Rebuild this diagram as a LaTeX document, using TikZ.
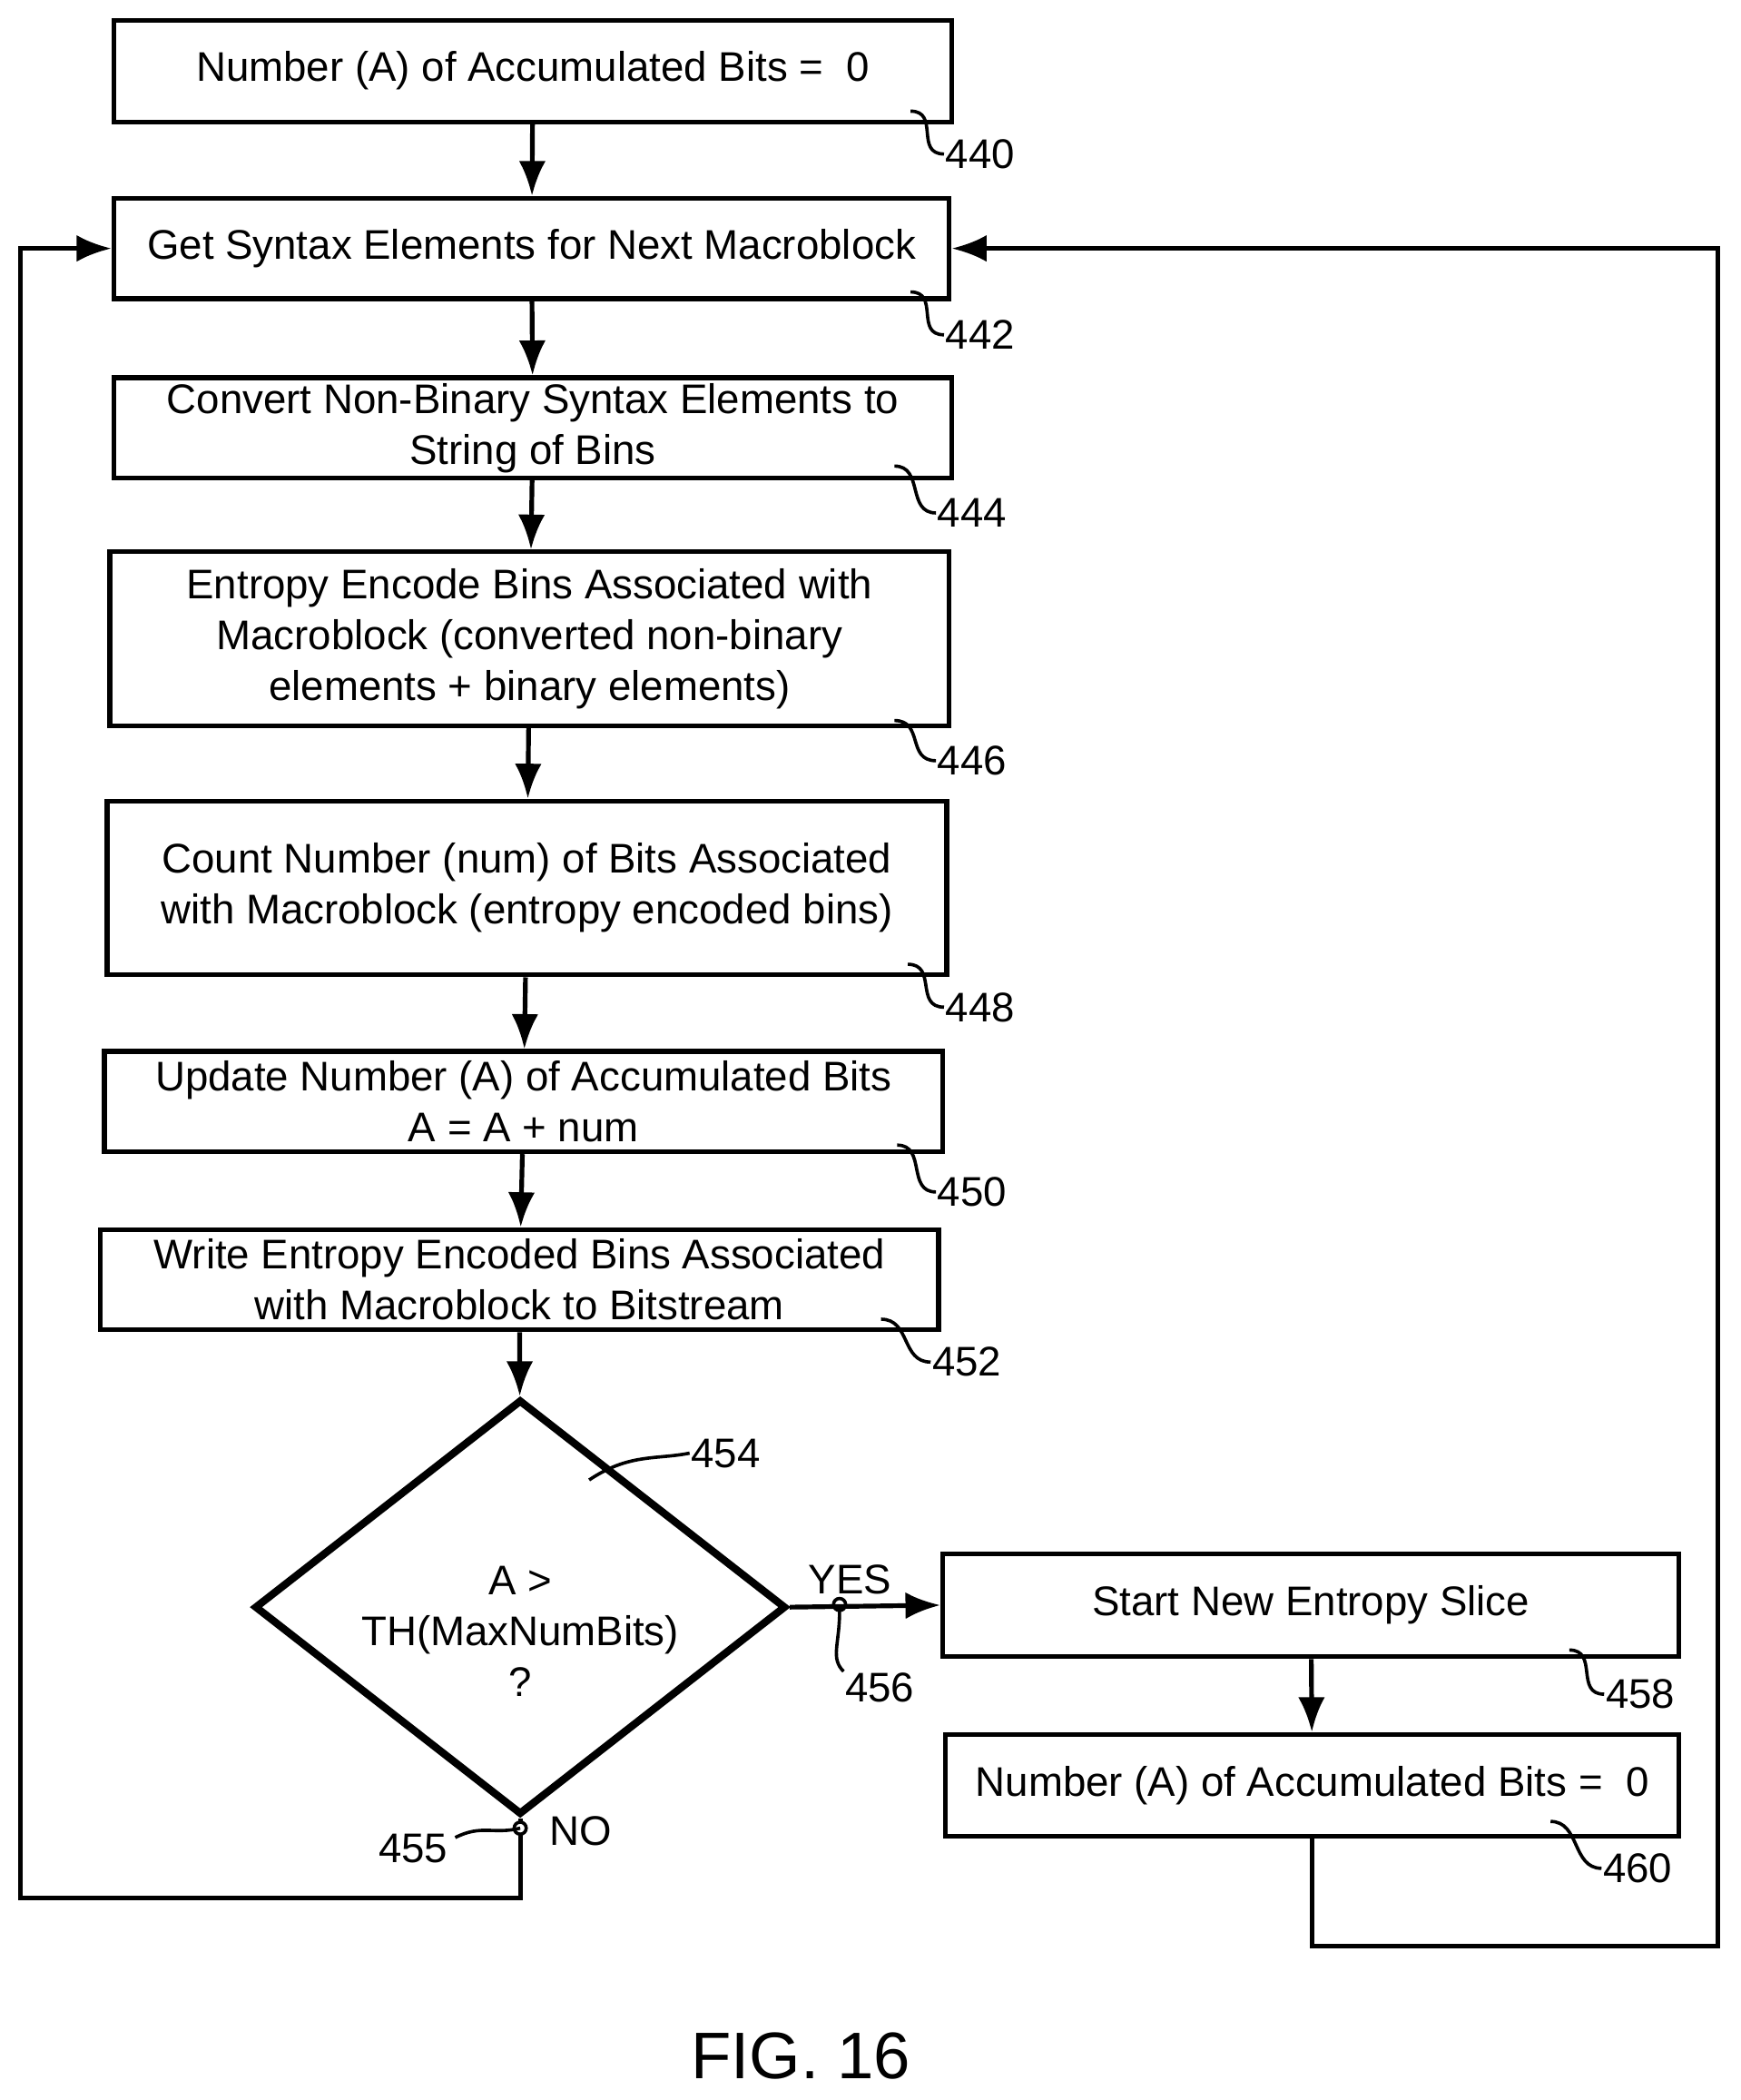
\documentclass[tikz,border=0pt]{standalone}
\usepackage{fontspec}
\setmainfont{Liberation Sans}
\usetikzlibrary{shapes.geometric,arrows.meta}

\tikzset{
  stepbox/.style={draw, line width=1pt, align=center, inner sep=1pt, font=\fontsize{8.8}{10.8}\selectfont},
  test/.style={draw, diamond, line width=1.6pt, align=center, inner sep=0pt, font=\fontsize{8.8}{10.8}\selectfont},
  arrow/.style={line width=1pt, -{Latex[length=2.6mm,width=2mm]}},
  flow/.style={line width=1pt},
  leader/.style={line width=0.7pt},
  ref/.style={anchor=west, inner sep=0pt, font=\fontsize{8.8}{9}\selectfont}
}
\newcommand{\refmark}[3]{%
  \draw[leader] (#1) .. controls +(0.22,0) and +(-0.22,0) .. (#2) node[ref] {#3};}

\begin{document}
\begin{tikzpicture}
\useasboundingbox (0,0) rectangle (13.0,-15.68);

% Steps
\node[stepbox, minimum width=6.26cm, minimum height=0.76cm] (b440) at (3.98,-0.53) {Number (A) of Accumulated Bits =\ \ 0};
\node[stepbox, minimum width=6.24cm, minimum height=0.75cm] (b442) at (3.97,-1.855) {Get Syntax Elements for Next Macroblock};
\node[stepbox, minimum width=6.26cm, minimum height=0.75cm] (b444) at (3.98,-3.195) {Convert Non-Binary Syntax Elements to\\String of Bins};
\node[stepbox, minimum width=6.27cm, minimum height=1.30cm] (b446) at (3.955,-4.77) {Entropy Encode Bins Associated with\\Macroblock (converted non-binary\\elements + binary elements)};
\node[stepbox, minimum width=6.27cm, minimum height=1.30cm] (b448) at (3.935,-6.63) {Count Number (num) of Bits Associated\\with Macroblock (entropy encoded bins)};
\node[stepbox, minimum width=6.26cm, minimum height=0.75cm] (b450) at (3.91,-8.225) {Update Number (A) of Accumulated Bits\\A = A + num};
\node[stepbox, minimum width=6.26cm, minimum height=0.75cm] (b452) at (3.88,-9.555) {Write Entropy Encoded Bins Associated\\with Macroblock to Bitstream};
\node[test, minimum width=3.97cm, minimum height=3.10cm] (d454) at (3.885,-12.0) {};
\node[align=center, font=\fontsize{8.8}{10.8}\selectfont] (q454) at (3.885,-12.18) {A >\\TH(MaxNumBits)\\?};
\node[stepbox, minimum width=5.5cm, minimum height=0.77cm] (b458) at (9.79,-11.985) {Start New Entropy Slice};
\node[stepbox, minimum width=5.48cm, minimum height=0.76cm] (b460) at (9.80,-13.33) {Number (A) of Accumulated Bits =\ \ 0};

% Connectors
\draw[arrow] (b440) -- (b442);
\draw[arrow] (b442) -- (b444);
\draw[arrow] (b444) -- (b446);
\draw[arrow] (b446) -- (b448);
\draw[arrow] (b448) -- (b450);
\draw[arrow] (b450) -- (b452);
\draw[arrow] (b452) -- (d454);
\draw[arrow] (d454.east) -- (b458.west) node[pos=0.4, above, inner sep=2pt, font=\fontsize{8.8}{9}\selectfont] {YES};
\draw[arrow] (b458) -- (b460);
\coordinate (lft) at (0.15,-14.17);
\coordinate (rgt) at (12.83,-14.53);
\draw[arrow] (d454.south) |- (lft) |- (b442.west);
\draw[arrow] (b460.south) |- (rgt) |- (b442.east);
\node[font=\fontsize{8.8}{9}\selectfont, anchor=west] at (3.98,-13.67) {NO};

% Reference marks
\refmark{6.80,-0.83}{7.05,-1.15}{440}
\refmark{6.80,-2.18}{7.05,-2.50}{442}
\refmark{6.68,-3.48}{6.99,-3.83}{444}
\refmark{6.68,-5.38}{6.99,-5.68}{446}
\refmark{6.78,-7.20}{7.05,-7.52}{448}
\refmark{6.70,-8.55}{6.99,-8.90}{450}
\refmark{6.58,-9.85}{6.95,-10.17}{452}
\refmark{11.72,-12.32}{11.98,-12.65}{458}
\refmark{11.58,-13.60}{11.96,-13.95}{460}
\draw[leader] (4.40,-11.05) .. controls +(0.3,0.2) and +(-0.25,-0.05) .. (5.15,-10.85) node[ref] {454};
\coordinate (c456) at (6.27,-11.98);
\draw[leader] (c456) circle (0.045);
\draw[leader] (c456) ++(0,-0.05) .. controls +(0,-0.25) and +(-0.1,0.1) .. (6.30,-12.48) node[ref, anchor=north west] {456};
\coordinate (c455) at (3.885,-13.65);
\draw[leader, fill=white] (c455) circle (0.045);
\draw[leader] (3.40,-13.72) .. controls +(0.2,0.1) and +(-0.2,-0.05) .. (c455);
\node[ref, anchor=east] at (3.35,-13.80) {455};

\node[font=\fontsize{14}{16}\selectfont] (fig) at (5.98,-15.35) {FIG. 16};
\end{tikzpicture}
\end{document}
